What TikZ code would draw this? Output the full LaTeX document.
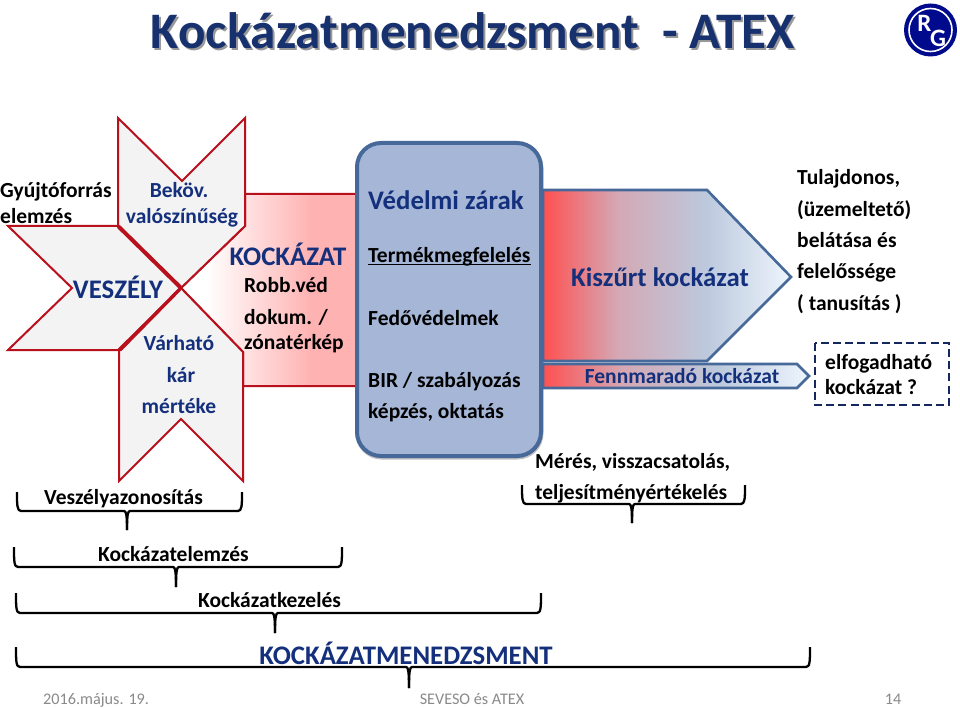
\documentclass[tikz,border=0pt]{standalone}
\usepackage{fontspec}
\setmainfont{Carlito}
\usetikzlibrary{calc}
\definecolor{navy}{HTML}{14307C}
\definecolor{titleblue}{HTML}{17306E}
\definecolor{starred}{HTML}{B8101C}
\definecolor{starfill}{HTML}{F3F3F4}
\definecolor{steel}{HTML}{47699A}
\definecolor{boxfill}{HTML}{A5B6D7}
\definecolor{dashblue}{HTML}{14275E}
\definecolor{footgray}{HTML}{8A8A8A}
\definecolor{logoblue}{HTML}{000A8C}
\definecolor{grA}{HTML}{FF5050}
\definecolor{grB}{HTML}{D4A8B4}
\definecolor{grC}{HTML}{BCC9DD}
\definecolor{grD}{HTML}{EEF5FD}
\definecolor{pinkend}{HTML}{FFB2B2}
\newcommand{\fs}[1]{\fontsize{#1}{#1}\selectfont\bfseries}
\pgfdeclarehorizontalshading{redblue}{100bp}{color(0bp)=(grA); color(25bp)=(grA); color(40bp)=(grB); color(58bp)=(grC); color(75bp)=(grD); color(100bp)=(grD)}
\pgfdeclarehorizontalshading{whitered}{100bp}{color(0bp)=(white); color(32bp)=(white); color(62bp)=(pinkend); color(100bp)=(pinkend)}
\tikzset{
  small/.style={font=\fs{21.5},text height=17.5pt,text depth=2.5pt},
  big/.style={font=\fs{26.8},text height=21pt,text depth=3.5pt},
  huge/.style={font=\fs{51.2},text height=38pt,text depth=8pt},
  txt/.style={inner sep=0pt,anchor=west,text=black,small},
  ctr/.style={inner sep=0pt,anchor=center},
  hazard/.style={draw=starred,line width=2pt,line join=miter,fill=starfill},
  flow/.style={draw=steel,line width=2.6pt,line join=miter,shading=redblue},
  bracebar/.style={draw=black,line width=2.3pt,line join=round},
  blueh/.style={ctr,text=navy},
  foot/.style={inner sep=0pt,text=footgray,font=\fontsize{16.2}{16.2}\selectfont,text height=13pt,text depth=2.5pt},
}
% brace: left x, right x, top y, bar y, tip x, tip y
\newcommand{\bracket}[6]{%
  \draw[bracebar] (#1,#3) .. controls (#1,#4-6) and (#1,#4) .. (#1+4,#4)
    -- (#5-3,#4) .. controls (#5-1,#4) and (#5,#4+3) .. (#5,#6);
  \draw[bracebar] (#5,#6) .. controls (#5,#4+3) and (#5+1,#4) .. (#5+3,#4)
    -- (#2-4,#4) .. controls (#2,#4) and (#2,#4-6) .. (#2,#3);}
\begin{document}
\begin{tikzpicture}[x=1pt,y=-1pt]
\useasboundingbox (0,0) rectangle (960,708);
\fill[white] (0,0) rectangle (960,708);

% title
\node[ctr,text=black!40,huge] (titleshadow) at (475,36) {Kockázatmenedzsment\ \ - ATEX};
\node[ctr,text=titleblue,huge] (title) at (473,34) {Kockázatmenedzsment\ \ - ATEX};

% logo
\fill[logoblue] (930.5,30) circle (26.5);
\draw[white,line width=1.6pt] (930.5,30) circle (21.5);
\node[ctr,text=white,font=\fs{25}] (logoR) at (924.5,23.5) {R};
\node[ctr,text=white,font=\fs{25}] (logoG) at (938,38) {G};

% risk box
\path[draw=starred,line width=2pt,shading=whitered]
  (245,194) -- (357,194) -- (357,386) -- (243,386) -- (243,352) -- (181,288) -- (245,226) -- cycle;

% star
\path[hazard] (8,226) -- (118,226) -- (181,288) -- (118,350) -- (8,350) -- (72,288) -- cycle;
\path[hazard] (118,118) -- (182,181) -- (245,118) -- (245,226) -- (181,288) -- (118,226) -- cycle;
\path[hazard] (119,350) -- (181,288) -- (243,352) -- (243,481) -- (181,419) -- (119,481) -- cycle;
\draw[starred,line width=4pt,line cap=round] (119,227) -- (180,287);
\draw[starred,line width=3.4pt,line cap=round] (120,350) -- (180,289);

% protection box
\draw[draw=black!25,line width=4pt,rounded corners=24pt] (357.5,144.5) rectangle (541.5,457.5);
\draw[draw=steel,line width=4pt,fill=boxfill,rounded corners=24pt] (357,143) rectangle (541,456);

% arrows
\path[flow] (543,190) -- (707,190) -- (791,277) -- (707,361) -- (543,361) -- cycle;
\path[flow] (543,364) -- (797,364) -- (809,376) -- (797,388) -- (543,388) -- cycle;

% dashed box
\draw[draw=dashblue,line width=2.6pt,dash pattern=on 8pt off 4.2pt] (815,343) rectangle (949,405);

% star and risk texts
\node[txt] (t1) at (0,190) {Gyújtóforrás};
\node[txt] (t2) at (0,216) {elemzés};
\node[blueh,small] (bekov) at (179,190) {Beköv.};
\node[blueh,small] (valo) at (182,216) {valószínűség};
\node[blueh,big] (vesz) at (118,290) {VESZÉLY};
\node[blueh,small] (varh) at (179,343) {Várható};
\node[blueh,small] (kar) at (181,375) {kár};
\node[blueh,small] (mert) at (179,406) {mértéke};
\node[blueh,big] (kock) at (288,257) {KOCKÁZAT};
\node[txt] (rob) at (244,285) {Robb.véd};
\node[txt] (dok) at (244,317) {dokum. /};
\node[txt] (zon) at (244,342) {zónatérkép};

% protection texts
\node[txt,text=navy,big] (vz) at (368,201) {Védelmi zárak};
\node[txt] (tm) at (368,255) {Termékmegfelelés};
\draw[black,line width=1.2pt] ($(tm.south west)+(0,-1)$) -- ($(tm.south east)+(0,-1)$);
\node[txt] (fv) at (368,318) {Fedővédelmek};
\node[txt] (bir) at (368,380) {BIR / szabályozás};
\node[txt] (kep) at (368,411) {képzés, oktatás};

% flow texts
\node[blueh,big] (kisz) at (660,278) {Kiszűrt kockázat};
\node[blueh,small] (fenn) at (682,376) {Fennmaradó kockázat};

% right column
\node[txt] (r1) at (797,177) {Tulajdonos,};
\node[txt] (r2) at (797,209) {(üzemeltető)};
\node[txt] (r3) at (797,240) {belátása és};
\node[txt] (r4) at (797,271) {felelőssége};
\node[txt] (r5) at (797,303) {( tanusítás )};
\node[txt] (e1) at (825,362) {elfogadható};
\node[txt] (e2) at (825,387) {kockázat ?};

% brace labels
\node[txt] (l1) at (44,497) {Veszélyazonosítás};
\node[txt] (l2a) at (535,461) {Mérés, visszacsatolás,};
\node[txt] (l2b) at (535,492) {teljesítményértékelés};
\node[txt] (l3) at (98,554) {Kockázatelemzés};
\node[txt] (l4) at (198,600) {Kockázatkezelés};
\node[blueh,big] (l5) at (406,656) {KOCKÁZATMENEDZSMENT};

% braces
\bracket{17}{242}{492}{511}{127}{530}
\bracket{522}{745}{485}{504}{632}{523}
\bracket{14}{342}{547}{567}{176}{587}
\bracket{16}{541}{593}{613}{275}{633}
\bracket{16}{810}{647}{667}{409}{688}

% footer
\node[foot,anchor=west] (f1) at (43,699) {2016.május. 19.};
\node[foot] (f2) at (472,699) {SEVESO és ATEX};
\node[foot] (f3) at (893,699) {14};
\end{tikzpicture}
\end{document}
